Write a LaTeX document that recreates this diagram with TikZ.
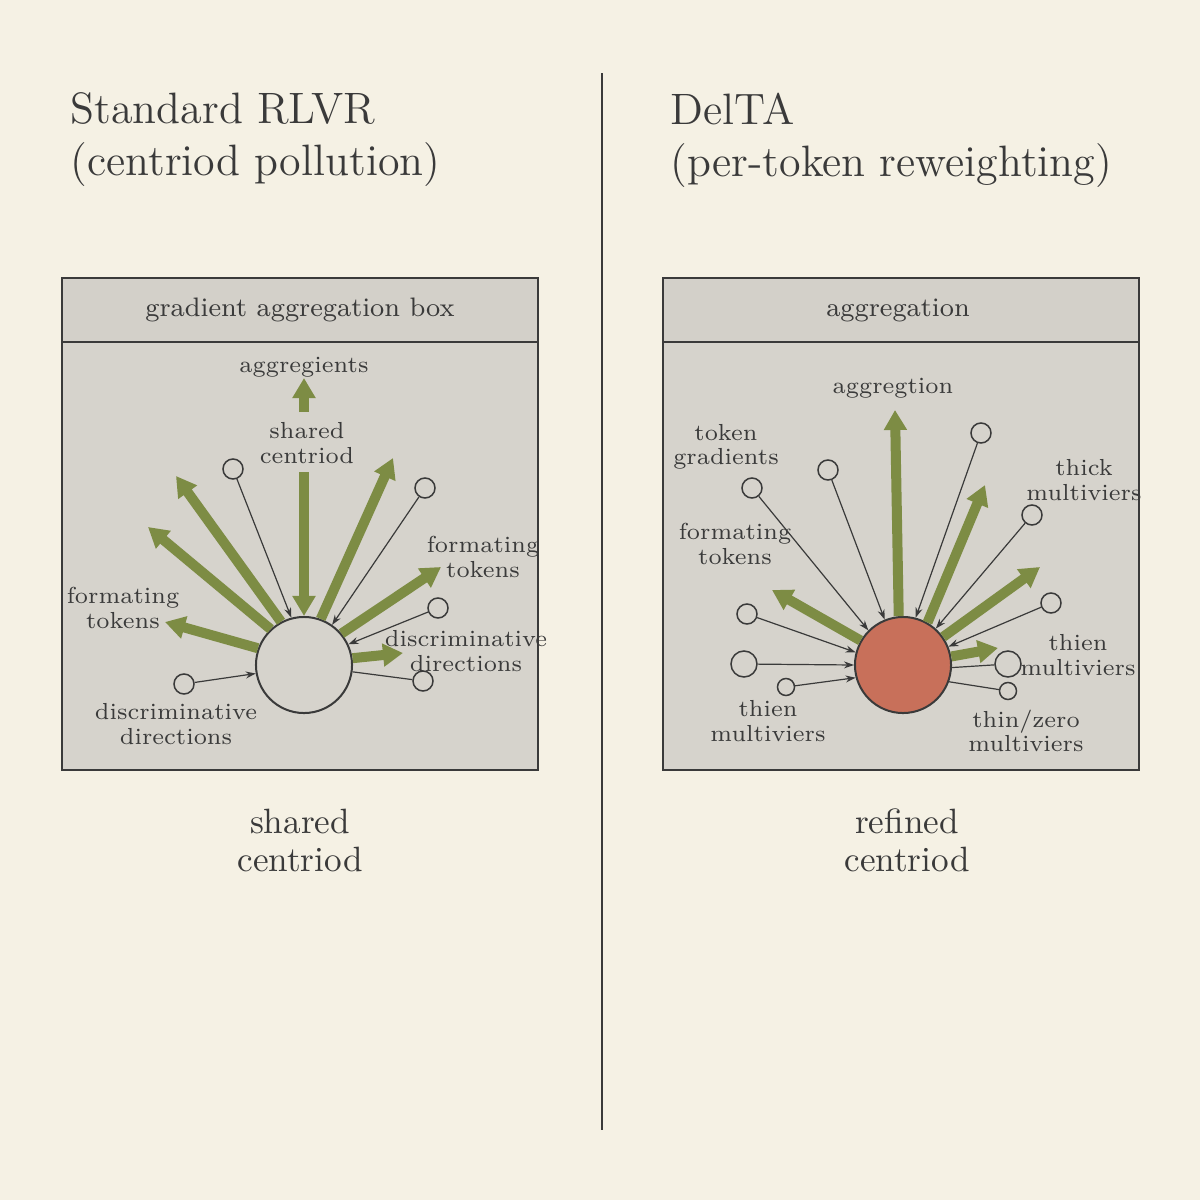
\documentclass[tikz,border=0pt]{standalone}
\usetikzlibrary{arrows.meta}
\definecolor{paper}{HTML}{F5F1E4}
\definecolor{boxgray}{HTML}{D6D3CC}
\definecolor{headgray}{HTML}{D3D0C9}
\definecolor{olive}{HTML}{7D8C44}
\definecolor{brick}{HTML}{C8705A}
\definecolor{ink}{HTML}{3A3A3A}
\tikzset{
  panel/.style={draw=ink, line width=0.02cm, fill=boxgray},
  head/.style={draw=ink, line width=0.02cm, fill=headgray},
  grad/.style={draw=olive, line width=0.1cm, -{Triangle[length=0.2cm,width=0.22cm]}},
  tok/.style={circle, draw=ink, line width=0.015cm, fill=boxgray, inner sep=0pt, minimum size=0.2cm},
  thin/.style={draw=ink, line width=0.012cm, -{Stealth[length=0.1cm,width=0.07cm]}},
  plain/.style={draw=ink, line width=0.012cm},
  lab/.style={text=ink, align=center, font=\fontsize{6.6}{6.9}\selectfont, inner sep=0pt},
  title/.style={text=ink, anchor=north west, align=left, font=\fontsize{12.5}{14.8}\selectfont, inner sep=0pt},
  big/.style={text=ink, align=center, font=\fontsize{10}{10.8}\selectfont, inner sep=0pt}
}
\begin{document}
\begin{tikzpicture}[x=0.01cm, y=-0.01cm]
\fill[paper] (0,0) rectangle (1200,1200);
\useasboundingbox (0,0) rectangle (1200,1200);

% divider
\draw[ink, line width=0.015cm] (602,73) -- (602,1130);

% titles
\node[title] (tl) at (70,92) {Standard RLVR\\(centriod pollution)};
\node[title] (tr) at (670,92) {DelTA\\(per-token reweighting)};

% left panel
\draw[panel] (62,278) rectangle (538,770);
\draw[head] (62,278) rectangle (538,342);
\node[lab, font=\fontsize{7.6}{8}\selectfont] (hl) at (300,310) {gradient aggregation box};
\node[circle, draw=ink, line width=0.02cm, fill=boxgray, minimum size=0.96cm, inner sep=0pt] (cl) at (304,665) {};

\coordinate (a1) at (304,378);
\coordinate (a1s) at (304,412);
\draw[grad] (a1s) -- (a1);
\coordinate (a2s) at (304,472);
\draw[grad] (a2s) -- (cl.north);
\coordinate (a3) at (148,527);
\coordinate (a4) at (176,476);
\coordinate (a5) at (393,458);
\coordinate (a6) at (441,567);
\coordinate (a7) at (165,622);
\coordinate (a8) at (403,653);
\draw[grad] (cl.133) -- (a3);
\draw[grad] (cl.118) -- (a4);
\draw[grad] (cl.70) -- (a5);
\draw[grad] (cl.40) -- (a6);
\draw[grad] (cl.160) -- (a7);
\draw[grad] (cl.8) -- (a8);

\node[tok] (t1) at (233,469) {};
\node[tok] (t2) at (425,488) {};
\node[tok] (t3) at (438,608) {};
\node[tok] (t4) at (423,681) {};
\node[tok] (t5) at (184,684) {};
\draw[thin] (t1) -- (cl.105);
\draw[thin] (t2) -- (cl.55);
\draw[thin] (t3) -- (cl.25);
\draw[plain] (t4) -- (cl.-8);
\draw[thin] (t5) -- (cl.190);

\node[lab] at (304,367) {aggregients};
\node[lab] at (307,443) {shared\\centriod};
\node[lab] at (483,557) {formating\\tokens};
\node[lab] at (123,608) {formating\\tokens};
\node[lab] at (466,651) {discriminative\\directions};
\node[lab] at (176,724) {discriminative\\directions};

% right panel
\draw[panel] (663,278) rectangle (1139,770);
\draw[head] (663,278) rectangle (1139,342);
\node[lab, font=\fontsize{7.6}{8}\selectfont] (hr) at (898,310) {aggregation};
\node[circle, draw=ink, line width=0.02cm, fill=brick, minimum size=0.96cm, inner sep=0pt] (cr) at (903,665) {};

\coordinate (b1) at (895,410);
\coordinate (b2) at (985,485);
\coordinate (b3) at (1040,567);
\coordinate (b4) at (772,590);
\coordinate (b5) at (998,648);
\draw[grad] (cr.95) -- (b1);
\draw[grad] (cr.60) -- (b2);
\draw[grad] (cr.35) -- (b3);
\draw[grad] (cr.150) -- (b4);
\draw[grad] (cr.10) -- (b5);

\node[tok] (u1) at (752,488) {};
\node[tok] (u2) at (828,470) {};
\node[tok] (u3) at (981,433) {};
\node[tok] (u4) at (1032,515) {};
\node[tok] (u5) at (1051,603) {};
\node[tok] (u6) at (747,614) {};
\node[tok, minimum size=0.26cm] (u7) at (744,664) {};
\node[tok, minimum size=0.17cm] (u8) at (786,687) {};
\node[tok, minimum size=0.26cm] (u9) at (1008,664) {};
\node[tok, minimum size=0.17cm] (u10) at (1008,691) {};
\draw[thin] (u1) -- (cr.135);
\draw[thin] (u2) -- (cr.112);
\draw[thin] (u3) -- (cr.75);
\draw[thin] (u4) -- (cr.48);
\draw[thin] (u5) -- (cr.22);
\draw[thin] (u6) -- (cr.165);
\draw[thin] (u7) -- (cr.180);
\draw[thin] (u8) -- (cr.195);
\draw[plain] (u9) -- (cr.-3);
\draw[plain] (u10) -- (cr.-20);

\node[lab] at (893,388) {aggregtion};
\node[lab] at (726,447) {token\\gradients};
\node[lab] at (735,544) {formating\\tokens};
\node[lab] at (1084,480) {thick\\multiviers};
\node[lab] at (1078,655) {thien\\multiviers};
\node[lab] at (768,721) {thien\\multiviers};
\node[lab] at (1026,731) {thin/zero\\multiviers};

% bottom captions
\node[big] (sl) at (300,840) {shared\\centriod};
\node[big] (sr) at (907,840) {refined\\centriod};
\end{tikzpicture}
\end{document}
